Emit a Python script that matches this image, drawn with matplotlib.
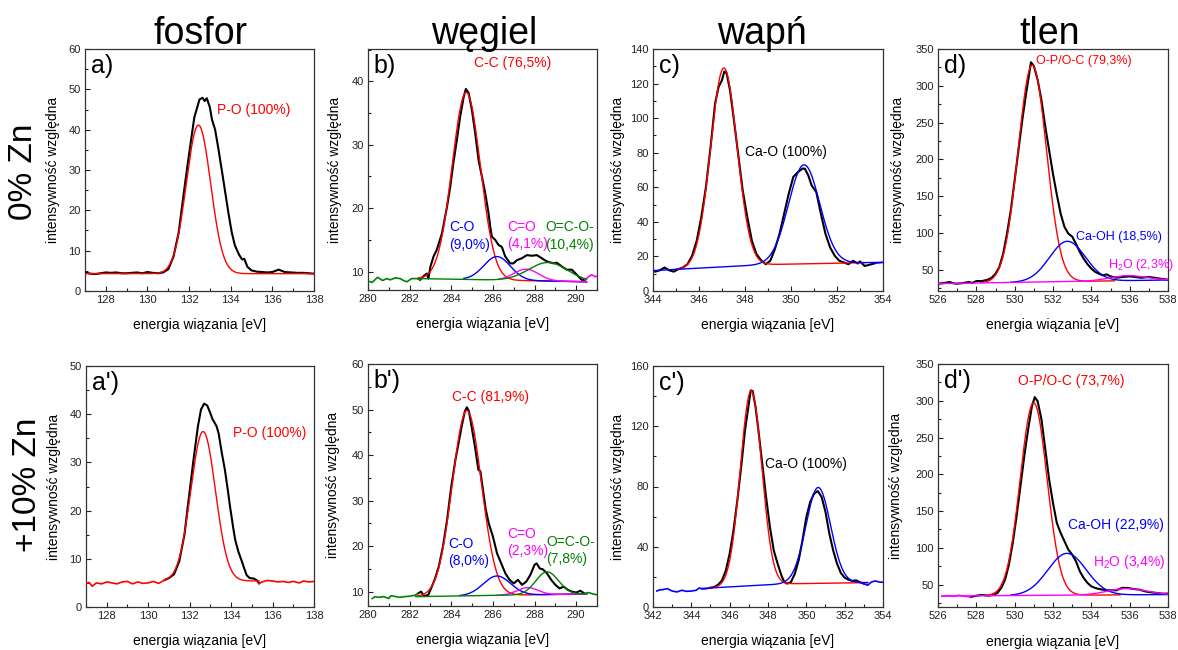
import numpy as np
import matplotlib
matplotlib.use("Agg")
import matplotlib.pyplot as plt
from matplotlib.ticker import MultipleLocator

plt.rcParams['font.family'] = ['Liberation Sans', 'DejaVu Sans']
plt.rcParams['mathtext.fontset'] = 'custom'
plt.rcParams['mathtext.rm'] = 'Liberation Sans'
plt.rcParams['mathtext.it'] = 'Liberation Sans:italic'

# ---------------------------------------------------------------------------
# Measured spectra: (binding energy [eV], relative intensity)
# ---------------------------------------------------------------------------
P2P_0ZN = [(127.0, 4.6), (127.25, 4.3), (127.5, 4.2), (127.75, 4.4), (128.0, 4.6),
           (128.25, 4.5), (128.5, 4.6), (128.75, 4.4), (129.0, 4.4), (129.25, 4.5),
           (129.5, 4.6), (129.75, 4.4), (130.0, 4.7), (130.25, 4.5), (130.5, 4.4),
           (130.75, 4.6), (131.0, 5.4), (131.25, 8.5), (131.5, 14.5), (131.75, 24.5),
           (132.0, 34.0), (132.25, 43.0), (132.5, 47.5), (132.65, 47.9), (132.75, 47.1),
           (132.85, 47.8), (133.0, 45.5), (133.1, 42.5), (133.25, 40.0), (133.4, 35.5),
           (133.6, 29.0), (133.75, 24.0), (133.9, 19.0), (134.05, 14.5), (134.2, 11.3),
           (134.4, 9.0), (134.55, 7.8), (134.65, 8.0), (134.8, 6.0), (135.0, 5.1),
           (135.25, 4.8), (135.5, 4.7), (135.75, 4.6), (136.0, 4.7), (136.3, 5.3),
           (136.6, 4.7), (136.9, 4.6), (137.2, 4.5), (137.5, 4.5), (137.75, 4.4),
           (138.0, 4.3)]

P2P_10ZN = [(127.0, 4.9), (127.15, 5.1), (127.3, 4.3), (127.5, 5.0), (127.75, 4.8),
            (128.0, 5.2), (128.25, 5.0), (128.5, 4.8), (128.75, 5.2), (129.0, 5.3),
            (129.25, 4.8), (129.5, 5.2), (129.75, 4.9), (130.0, 5.0), (130.25, 5.3),
            (130.5, 4.9), (130.8, 5.6), (131.0, 6.0), (131.25, 6.8), (131.5, 9.5),
            (131.75, 15.0), (131.9, 20.5), (132.0, 24.0), (132.2, 31.0), (132.4, 37.5),
            (132.55, 41.0), (132.7, 42.2), (132.85, 41.8), (133.0, 40.2), (133.1, 39.0),
            (133.3, 37.5), (133.4, 36.0), (133.55, 32.0), (133.7, 28.5), (133.85, 24.0),
            (133.95, 20.8), (134.1, 16.5), (134.2, 13.9), (134.35, 11.5), (134.5, 9.7),
            (134.65, 7.8), (134.75, 6.6), (134.9, 6.0), (135.1, 5.9), (135.25, 5.5),
            (135.35, 4.9), (135.5, 5.2), (135.75, 5.5), (136.0, 5.4), (136.25, 5.2),
            (136.5, 5.3), (136.75, 5.1), (137.0, 5.3), (137.3, 5.0), (137.5, 5.4),
            (137.75, 5.2), (138.0, 5.3)]

C1S_0ZN = [(280.0, 8.5), (280.2, 8.3), (280.46, 9.1), (280.7, 8.6), (280.9, 8.9),
           (281.07, 8.7), (281.3, 9.0), (281.55, 8.9), (281.7, 8.6), (281.87, 8.4),
           (282.1, 8.9), (282.35, 8.9), (282.5, 8.7), (282.67, 9.3), (282.83, 9.7),
           (282.9, 8.9), (283.0, 10.8), (283.15, 12.4), (283.3, 13.4), (283.55, 16.0),
           (283.8, 20.3), (283.95, 23.4), (284.1, 27.1), (284.27, 30.8), (284.43, 34.5),
           (284.6, 37.6), (284.7, 38.8), (284.83, 38.2), (284.99, 35.5), (285.15, 31.8),
           (285.31, 27.6), (285.47, 25.0), (285.63, 22.4), (285.79, 19.2), (285.87, 17.1),
           (285.95, 15.5), (286.11, 15.0), (286.27, 14.2), (286.43, 13.9), (286.59, 12.4),
           (286.83, 11.3), (286.99, 11.3), (287.15, 11.8), (287.39, 12.1), (287.63, 12.6),
           (287.87, 12.5), (288.11, 12.6), (288.35, 12.1), (288.59, 11.6), (288.91, 11.3),
           (289.07, 11.4), (289.31, 10.8), (289.55, 10.3), (289.79, 10.3), (290.03, 9.5),
           (290.27, 8.7), (290.43, 8.7), (290.59, 9.2), (290.75, 9.5), (290.91, 9.2),
           (291.0, 9.3)]

C1S_10ZN = [(280.2, 8.5), (280.35, 8.9), (280.5, 8.75), (280.75, 8.9), (281.0, 8.5),
            (281.1, 9.1), (281.25, 9.0), (281.5, 8.75), (281.75, 8.9), (282.0, 9.0),
            (282.25, 9.2), (282.4, 9.6), (282.55, 10.0), (282.7, 9.0), (282.9, 9.3),
            (283.0, 10.4), (283.2, 12.6), (283.4, 15.5), (283.6, 19.9), (283.8, 25.8),
            (284.0, 33.1), (284.2, 39.0), (284.35, 42.6), (284.5, 46.3), (284.65, 49.6),
            (284.75, 50.5), (284.85, 49.6), (285.0, 45.6), (285.15, 41.5), (285.3, 36.8),
            (285.4, 36.4), (285.5, 33.1), (285.65, 28.2), (285.8, 25.0), (286.0, 22.1),
            (286.2, 18.4), (286.4, 16.2), (286.6, 14.0), (286.8, 12.6), (287.0, 11.8),
            (287.2, 12.6), (287.4, 11.5), (287.6, 12.2), (287.8, 13.7), (288.0, 15.9),
            (288.1, 16.2), (288.25, 15.1), (288.4, 14.9), (288.6, 14.0), (288.8, 12.6),
            (289.0, 11.5), (289.2, 10.7), (289.4, 11.1), (289.6, 10.4), (289.8, 10.0),
            (290.0, 9.8), (290.2, 10.2), (290.4, 9.6), (290.6, 9.8), (290.8, 9.5),
            (291.0, 9.3)]

CA2P_0ZN = [(344.1, 11.2), (344.3, 12.0), (344.5, 13.6), (344.7, 12.0), (344.9, 11.2),
            (345.1, 12.6), (345.3, 13.6), (345.5, 15.5), (345.7, 20.4), (345.9, 29.0),
            (346.1, 42.7), (346.3, 60.0), (346.5, 83.0), (346.7, 108.6), (346.85, 118.0),
            (347.0, 122.0), (347.1, 127.0), (347.2, 126.0), (347.35, 116.0), (347.5, 100.8),
            (347.7, 79.5), (347.9, 58.2), (348.1, 42.7), (348.3, 29.0), (348.5, 21.3),
            (348.7, 17.8), (348.9, 15.5), (349.1, 17.5), (349.3, 24.2), (349.5, 33.0),
            (349.7, 44.6), (349.9, 56.2), (350.1, 66.0), (350.3, 68.8), (350.5, 70.8),
            (350.6, 70.8), (350.75, 66.9), (350.9, 61.0), (351.1, 57.2), (351.3, 44.6),
            (351.5, 33.0), (351.7, 25.2), (351.9, 20.4), (352.1, 17.5), (352.3, 16.5),
            (352.5, 15.5), (352.7, 17.5), (352.9, 15.9), (353.0, 17.1), (353.2, 14.5),
            (353.4, 15.1), (353.6, 15.9), (353.8, 16.3), (354.0, 16.5)]

CA2P_10ZN = [(342.2, 10.6), (342.35, 11.4), (342.5, 11.5), (342.75, 12.2), (343.0, 10.6),
             (343.25, 10.0), (343.5, 11.1), (343.75, 10.4), (344.0, 10.6), (344.25, 11.1),
             (344.4, 12.6), (344.6, 11.9), (344.8, 12.2), (345.0, 12.8), (345.2, 13.3),
             (345.4, 14.8), (345.6, 17.7), (345.8, 24.3), (346.0, 35.4), (346.2, 50.9),
             (346.4, 70.8), (346.6, 92.9), (346.8, 117.3), (346.95, 130.6), (347.1, 143.8),
             (347.2, 143.4), (347.35, 132.8), (347.5, 117.3), (347.7, 95.2), (347.9, 73.0),
             (348.1, 53.1), (348.3, 37.6), (348.5, 28.8), (348.7, 21.0), (348.85, 16.6),
             (349.0, 15.5), (349.2, 16.6), (349.4, 22.1), (349.6, 31.0), (349.8, 44.3),
             (350.0, 59.7), (350.2, 69.7), (350.4, 75.2), (350.6, 77.0), (350.8, 73.0),
             (351.0, 63.1), (351.2, 48.7), (351.4, 37.6), (351.6, 28.8), (351.8, 22.6),
             (352.0, 19.5), (352.2, 18.1), (352.4, 17.3), (352.6, 17.7), (352.8, 16.4),
             (353.0, 15.5), (353.2, 14.4), (353.4, 16.6), (353.6, 17.3), (353.8, 16.6),
             (354.0, 16.4)]

O1S_0ZN = [(526.0, 30.9), (526.3, 31.8), (526.6, 33.2), (526.8, 31.5), (527.0, 30.9),
           (527.3, 31.8), (527.6, 33.2), (527.8, 32.0), (528.0, 34.5), (528.3, 34.5),
           (528.6, 36.4), (528.8, 39.0), (529.0, 44.5), (529.2, 53.6), (529.4, 71.8),
           (529.6, 99.0), (529.8, 131.0), (530.0, 172.0), (530.2, 213.0), (530.4, 254.0),
           (530.6, 290.0), (530.75, 315.0), (530.85, 332.0), (531.0, 327.0), (531.2, 308.0),
           (531.4, 280.0), (531.6, 244.0), (531.8, 212.0), (532.0, 180.0), (532.2, 152.0),
           (532.4, 126.0), (532.6, 108.0), (532.8, 99.0), (533.0, 95.0), (533.2, 85.0),
           (533.4, 74.0), (533.6, 65.0), (533.8, 57.5), (534.0, 51.5), (534.2, 47.0),
           (534.4, 44.5), (534.6, 42.3), (534.8, 43.6), (535.0, 40.9), (535.3, 39.0),
           (535.6, 40.0), (536.0, 40.9), (536.3, 40.0), (536.6, 39.0), (537.0, 40.0),
           (537.3, 39.0), (537.6, 37.7), (538.0, 36.4)]

O1S_10ZN = [(526.2, 34.1), (526.5, 35.0), (526.8, 34.1), (527.1, 35.5), (527.4, 34.1),
            (527.7, 33.2), (528.0, 35.0), (528.3, 36.0), (528.6, 35.0), (528.9, 36.0),
            (529.1, 38.7), (529.3, 45.5), (529.5, 56.8), (529.7, 77.2), (529.9, 106.6),
            (530.1, 143.0), (530.3, 183.7), (530.5, 224.4), (530.7, 260.7), (530.9, 292.4),
            (531.05, 305.0), (531.2, 299.2), (531.4, 274.3), (531.6, 233.5), (531.8, 192.7),
            (532.0, 161.0), (532.2, 133.8), (532.4, 120.2), (532.6, 108.9), (532.8, 97.6),
            (533.0, 90.8), (533.2, 81.7), (533.4, 68.1), (533.6, 59.1), (533.8, 52.3),
            (534.0, 47.7), (534.2, 45.5), (534.4, 44.1), (534.6, 43.2), (534.8, 42.3),
            (535.0, 42.3), (535.3, 42.3), (535.6, 45.5), (535.9, 45.5), (536.2, 44.1),
            (536.5, 43.2), (536.8, 40.9), (537.1, 39.6), (537.4, 38.7), (537.7, 37.8),
            (538.0, 37.8)]

# ---------------------------------------------------------------------------
# Peak-fit results: centre [eV], FWHM [eV], share of the fitted area [%],
# total fitted area, and the background line under the peaks
# ---------------------------------------------------------------------------
P2P_0ZN_CENTERS, P2P_0ZN_FWHM, P2P_0ZN_SHARES = [132.45], [1.38], [100.0]
P2P_0ZN_AREA = 54.1
P2P_0ZN_BG = [(127.0, 4.3), (138.0, 4.3)]

P2P_10ZN_CENTERS, P2P_10ZN_FWHM, P2P_10ZN_SHARES = [132.65], [1.40], [100.0]
P2P_10ZN_AREA = 46.2
P2P_10ZN_BG = [(130.8, 5.4), (135.35, 5.4)]

C1S_0ZN_CENTERS = [284.72, 286.20, 287.60, 288.65]
C1S_0ZN_FWHM = [1.60, 1.50, 1.40, 2.20]
C1S_0ZN_SHARES = [76.5, 9.0, 4.1, 10.4]
C1S_0ZN_AREA = 65.7
C1S_0ZN_BG = [(282.4, 8.9), (290.5, 8.4)]

C1S_10ZN_CENTERS = [284.75, 286.19, 287.66, 288.60]
C1S_10ZN_FWHM = [1.65, 1.54, 1.18, 1.28]
C1S_10ZN_SHARES = [81.9, 8.0, 2.3, 7.8]
C1S_10ZN_AREA = 87.3
C1S_10ZN_BG = [(282.3, 8.9), (290.5, 9.5)]

CA2P_0ZN_CENTERS = [347.08, 350.57]
CA2P_0ZN_FWHM = [1.35, 1.60]
CA2P_0ZN_SHARES = [62.9, 37.1]
CA2P_0ZN_AREA = 262.9
CA2P_0ZN_BG = [(344.0, 11.8), (349.0, 15.3), (354.0, 16.6)]

CA2P_10ZN_CENTERS = [347.12, 350.62]
CA2P_10ZN_FWHM = [1.32, 1.51]
CA2P_10ZN_SHARES = [64.0, 36.0]
CA2P_10ZN_AREA = 284.2
CA2P_10ZN_BG = [(344.5, 12.3), (349.0, 15.4), (353.2, 16.2)]

O1S_0ZN_CENTERS = [530.92, 532.75, 535.90]
O1S_0ZN_FWHM = [1.75, 2.20, 2.20]
O1S_0ZN_SHARES = [79.3, 18.5, 2.3]
O1S_0ZN_AREA = 693.0
O1S_0ZN_BG = [(526.0, 31.0), (538.0, 36.0)]

O1S_10ZN_CENTERS = [530.99, 532.73, 535.83]
O1S_10ZN_FWHM = [1.65, 2.36, 2.34]
O1S_10ZN_SHARES = [73.7, 22.9, 3.4]
O1S_10ZN_AREA = 624.3
O1S_10ZN_BG = [(526.2, 34.5), (538.0, 36.5)]

COLUMN_TITLES = ["fosfor", "węgiel", "wapń", "tlen"]
ROW_TITLES = ["0% Zn", "+10% Zn"]

RED, BLUE, MAGENTA, GREEN = "#ff0000", "#0000ff", "#ff00ff", "#008000"
W, H = 1178, 650


def gauss_peak(x, center, fwhm, area):
    sigma = fwhm / (2.0 * np.sqrt(2.0 * np.log(2.0)))
    return area / (sigma * np.sqrt(2.0 * np.pi)) * np.exp(-0.5 * ((x - center) / sigma) ** 2)


def pct_text(value):
    v = round(value, 1)
    if v == 100:
        return "100"
    return f"{v:.1f}".replace(".", ",")


PANELS = [
    dict(letter="a)", box=(85, 49, 314, 291), data=P2P_0ZN, window=(127.0, 138.0), edges=(None, None),
         centers=P2P_0ZN_CENTERS, fwhm=P2P_0ZN_FWHM, shares=P2P_0ZN_SHARES, area=P2P_0ZN_AREA,
         bg=P2P_0ZN_BG, colors=[RED], ranges=[(127.0, 138.0)],
         labels=[("P-O ({p}%)", [0], 133.35, 44.9, RED, "left", 10)],
         xlim=(127, 138), ylim=(0, 60), xmaj=2, ymaj=10, ymin=5, ylab_x=-0.14),
    dict(letter="b)", box=(368, 49, 597, 290), data=C1S_0ZN, window=(282.5, 290.43), edges=(GREEN, MAGENTA),
         centers=C1S_0ZN_CENTERS, fwhm=C1S_0ZN_FWHM, shares=C1S_0ZN_SHARES, area=C1S_0ZN_AREA,
         bg=C1S_0ZN_BG, colors=[RED, BLUE, MAGENTA, GREEN],
         ranges=[(282.4, 290.5), (284.6, 290.5), (286.3, 290.5), (282.4, 290.5)],
         labels=[("C-C ({p}%)", [0], 286.96, 42.9, RED, "center", 10),
                 ("C-O\n({p}%)", [1], 283.9, 15.6, BLUE, "left", 10),
                 ("C=O\n({p}%)", [2], 286.7, 15.7, MAGENTA, "left", 10),
                 ("O=C-O-\n({p}%)", [3], 288.51, 15.6, GREEN, "left", 10)],
         xlim=(280, 291), ylim=(7.1, 45.1), xmaj=2, ymaj=10, ymin=5, ylab_x=-0.144),
    dict(letter="c)", box=(653, 49, 883, 291), data=CA2P_0ZN, window=(344.1, 353.6), edges=(BLUE, BLUE),
         centers=CA2P_0ZN_CENTERS, fwhm=CA2P_0ZN_FWHM, shares=CA2P_0ZN_SHARES, area=CA2P_0ZN_AREA,
         bg=CA2P_0ZN_BG, colors=[RED, BLUE], ranges=[(345.0, 353.2), (344.0, 354.0)],
         labels=[("Ca-O ({p}%)", [0, 1], 349.8, 80.5, "black", "center", 10)],
         xlim=(344, 354), ylim=(0, 140), xmaj=2, ymaj=20, ymin=10, ylab_x=-0.152),
    dict(letter="d)", box=(938, 49, 1168, 291), data=O1S_0ZN, window=(526.0, 538.0), edges=(None, None),
         centers=O1S_0ZN_CENTERS, fwhm=O1S_0ZN_FWHM, shares=O1S_0ZN_SHARES, area=O1S_0ZN_AREA,
         bg=O1S_0ZN_BG, colors=[RED, BLUE, MAGENTA],
         ranges=[(528.3, 535.2), (529.8, 538.0), (526.0, 538.0)],
         labels=[("O-P/O-C ({p}%)", [0], 531.13, 334.0, RED, "left", 9),
                 ("Ca-OH ({p}%)", [1], 533.2, 94.5, BLUE, "left", 9),
                 ("H$_2$O ({p}%)", [2], 534.87, 56.8, MAGENTA, "left", 9)],
         xlim=(526, 538), ylim=(21, 350), xmaj=2, ymaj=50, ymin=25, ylab_x=-0.174),
    dict(letter="a')", box=(86, 366, 314, 607), data=P2P_10ZN, window=(130.8, 135.35), edges=(RED, RED),
         centers=P2P_10ZN_CENTERS, fwhm=P2P_10ZN_FWHM, shares=P2P_10ZN_SHARES, area=P2P_10ZN_AREA,
         bg=P2P_10ZN_BG, colors=[RED], ranges=[(130.8, 135.35)],
         labels=[("P-O ({p}%)", [0], 134.1, 36.0, RED, "left", 10)],
         xlim=(127, 138), ylim=(0, 50), xmaj=2, ymaj=10, ymin=5, ylab_x=-0.14),
    dict(letter="b')", box=(368, 364, 597, 606), data=C1S_10ZN, window=(282.4, 290.4), edges=(GREEN, GREEN),
         centers=C1S_10ZN_CENTERS, fwhm=C1S_10ZN_FWHM, shares=C1S_10ZN_SHARES, area=C1S_10ZN_AREA,
         bg=C1S_10ZN_BG, colors=[RED, BLUE, MAGENTA, GREEN],
         ranges=[(282.3, 290.5), (284.4, 290.5), (286.2, 290.5), (282.3, 290.5)],
         labels=[("C-C ({p}%)", [0], 285.87, 52.7, RED, "center", 10),
                 ("C-O\n({p}%)", [1], 283.87, 18.6, BLUE, "left", 10),
                 ("C=O\n({p}%)", [2], 286.7, 20.75, MAGENTA, "left", 10),
                 ("O=C-O-\n({p}%)", [3], 288.56, 19.05, GREEN, "left", 10)],
         xlim=(280, 291), ylim=(6.85, 60), xmaj=2, ymaj=10, ymin=5, ylab_x=-0.153),
    dict(letter="c')", box=(653, 366, 883, 607), data=CA2P_10ZN, window=(345.0, 353.0), edges=(BLUE, BLUE),
         centers=CA2P_10ZN_CENTERS, fwhm=CA2P_10ZN_FWHM, shares=CA2P_10ZN_SHARES, area=CA2P_10ZN_AREA,
         bg=CA2P_10ZN_BG, colors=[RED, BLUE], ranges=[(344.9, 353.2), (344.5, 353.2)],
         labels=[("Ca-O ({p}%)", [0, 1], 350.0, 95.2, "black", "center", 10)],
         xlim=(342, 354), ylim=(0, 160), xmaj=2, ymaj=40, ymin=20, ylab_x=-0.152),
    dict(letter="d')", box=(938, 364, 1168, 607), data=O1S_10ZN, window=(527.7, 538.0), edges=(MAGENTA, None),
         centers=O1S_10ZN_CENTERS, fwhm=O1S_10ZN_FWHM, shares=O1S_10ZN_SHARES, area=O1S_10ZN_AREA,
         bg=O1S_10ZN_BG, colors=[RED, BLUE, MAGENTA],
         ranges=[(528.5, 535.5), (529.8, 538.0), (526.2, 538.0)],
         labels=[("O-P/O-C ({p}%)", [0], 530.17, 326.4, RED, "left", 10),
                 ("Ca-OH ({p}%)", [1], 532.78, 131.6, BLUE, "left", 10),
                 ("H$_2$O ({p}%)", [2], 534.09, 80.4, MAGENTA, "left", 10)],
         xlim=(526, 538), ylim=(19.6, 350), xmaj=2, ymaj=50, ymin=25, ylab_x=-0.183),
]

fig = plt.figure(figsize=(W / 100, H / 100), dpi=100)
fig.patch.set_facecolor("white")

for spec in PANELS:
    x0, y0, x1, y1 = spec["box"]
    ax = fig.add_axes([x0 / W, 1 - y1 / H, (x1 - x0) / W, (y1 - y0) / H])

    # measured spectrum: black inside the fitted window, coloured outside it
    E, I = np.array(spec["data"]).T
    lo, hi = spec["window"]
    left_col, right_col = spec["edges"]
    inside = (E >= lo - 1e-9) & (E <= hi + 1e-9)
    ax.plot(E[inside], I[inside], color="black", lw=1.5, zorder=3)
    if left_col:
        m = E <= lo + 1e-9
        ax.plot(E[m], I[m], color=left_col, lw=1.2, zorder=3)
    if right_col:
        m = E >= hi - 1e-9
        ax.plot(E[m], I[m], color=right_col, lw=1.2, zorder=3)

    # fitted components on top of the background line
    bgx, bgy = np.array(spec["bg"]).T
    for c, w, s, col, (r0, r1) in zip(spec["centers"], spec["fwhm"], spec["shares"],
                                       spec["colors"], spec["ranges"]):
        x = np.linspace(r0, r1, 500)
        y = np.interp(x, bgx, bgy) + gauss_peak(x, c, w, s / 100.0 * spec["area"])
        ax.plot(x, y, color=col, lw=1.0, zorder=4)

    for tmpl, idx, tx, ty, col, ha, fs in spec["labels"]:
        share = sum(spec["shares"][i] for i in idx)
        ax.text(tx, ty, tmpl.format(p=pct_text(share)), color=col, ha=ha, va="center",
                fontsize=fs, multialignment="left", linespacing=1.3, zorder=5)

    ax.text(0.025, 0.93, spec["letter"], transform=ax.transAxes, fontsize=18,
            ha="left", va="center", zorder=6)

    ax.set_xlim(*spec["xlim"])
    ax.set_ylim(*spec["ylim"])
    ax.xaxis.set_major_locator(MultipleLocator(spec["xmaj"]))
    ax.xaxis.set_minor_locator(MultipleLocator(spec["xmaj"] / 2))
    ax.yaxis.set_major_locator(MultipleLocator(spec["ymaj"]))
    ax.yaxis.set_minor_locator(MultipleLocator(spec["ymin"]))
    ax.tick_params(which="both", direction="in", top=False, right=False,
                   labelsize=8, colors="#222222", width=0.8)
    ax.tick_params(which="major", length=3.5, pad=3)
    ax.tick_params(which="minor", length=2)
    for sp in ax.spines.values():
        sp.set_linewidth(0.9)
        sp.set_color("#333333")

    ax.set_ylabel("intensywność względna", fontsize=10, va="center")
    ax.yaxis.set_label_coords(spec["ylab_x"], 0.5)
    ax.set_xlabel("energia wiązania [eV]", fontsize=10, va="center")
    ax.xaxis.set_label_coords(0.5, -0.142)

# column and row headings
for title, cx in zip(COLUMN_TITLES, [200, 484, 762, 1050]):
    fig.text(cx / W, 1 - 44 / H, title, fontsize=27, ha="center", va="baseline")
for title, (cx, cy) in zip(ROW_TITLES, [(24, 172), (28, 485)]):
    fig.text(cx / W, 1 - cy / H, title, fontsize=24, rotation=90, ha="center", va="center")

fig.savefig("out.png", dpi=100, facecolor="white")
